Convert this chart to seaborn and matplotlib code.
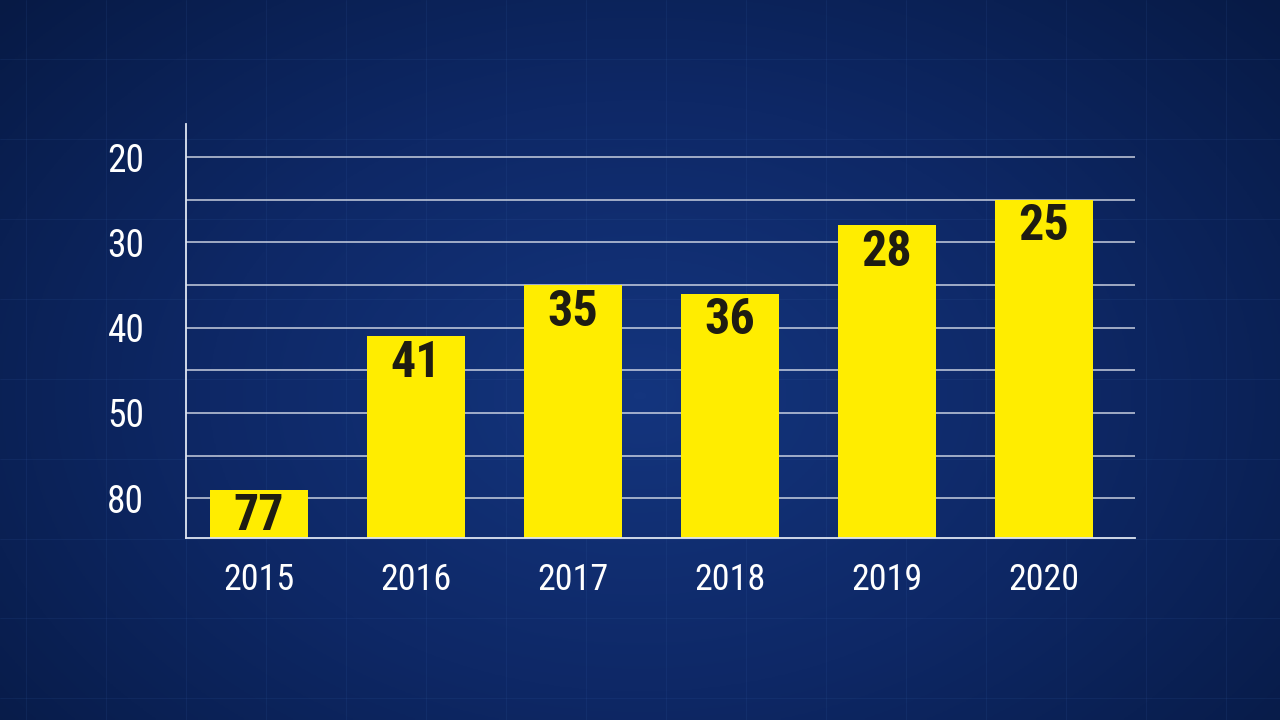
import numpy as np
import pandas as pd
import matplotlib
matplotlib.use("Agg")
import matplotlib.pyplot as plt
from matplotlib import font_manager
from matplotlib.colors import LinearSegmentedColormap
import seaborn as sns

# data
years = ["2015", "2016", "2017", "2018", "2019", "2020"]
values = [77, 41, 35, 36, 28, 25]
y_ticks = [20, 30, 40, 50, 80]
grid_extra = [25, 35, 45, 65]
base = 94  # value sitting on the baseline of the (inverted) axis

sns.set_theme(style="dark")

# pick a narrow font if one is installed
fonts = font_manager.fontManager.ttflist
names = {f.name for f in fonts}
cond, stretch = 'DejaVu Sans', 'normal'
for cand in ['Roboto Condensed', 'DejaVu Sans Condensed', 'Liberation Sans Narrow',
             'Open Sans Condensed', 'Noto Sans Condensed']:
    if cand in names:
        cond = cand
        break
else:
    narrow = [f for f in fonts if 'condensed' in str(f.stretch)]
    if narrow:
        cond, stretch = narrow[0].name, 'condensed'
plt.rcParams['font.family'] = [cond, 'DejaVu Sans']
plt.rcParams['font.stretch'] = stretch
is_narrow = cond != 'DejaVu Sans'


# axis squeezes everything above 50 to a third
def fwd(y):
    y = np.asarray(y, dtype=float)
    return np.where(y <= 50, y, 50 + (y - 50) / 3)


def inv(t):
    t = np.asarray(t, dtype=float)
    return np.where(t <= 50, t, 50 + (t - 50) * 3)


fig = plt.figure(figsize=(12.8, 7.2), dpi=100)

# dark blue background
bg = fig.add_axes([0, 0, 1, 1])
bg.axis('off')
yy, xx = np.mgrid[0:1:240j, 0:1:420j]
r = np.sqrt(((xx - 0.5) * 1.1) ** 2 + ((yy - 0.45) * 0.9) ** 2)
cmap = LinearSegmentedColormap.from_list("navy", ["#14357e", "#0e2866", "#071a45"])
bg.imshow(r, cmap=cmap, extent=(0, 1, 0, 1), aspect='auto', origin='lower')
for gx in np.arange(0.02, 1, 0.0625):
    bg.axvline(gx, color='#3a66b0', lw=0.6, alpha=0.15)
for gy in np.arange(0.03, 1, 0.111):
    bg.axhline(gy, color='#3a66b0', lw=0.6, alpha=0.15)
bg.set_xlim(0, 1)
bg.set_ylim(0, 1)

df = pd.DataFrame({'year': years, 'value': values})
df['depth'] = df['value'] - base

ax = fig.add_axes([0.1453, 0.2528, 0.7414, 0.575])
ax.set_facecolor('none')
sns.barplot(data=df, x='year', y='depth', bottom=base, color='#FFED00',
            saturation=1, width=0.62, linewidth=0, ax=ax)

ax.set_yscale('function', functions=(fwd, inv))
ax.set_ylim(base, 16.1)
ax.set_xlim(-0.465, 5.58)
ax.set_yticks(y_ticks)
ax.set_yticks(grid_extra, minor=True)
ax.yaxis.grid(True, which='both', color='#e8ecf4', lw=1.1, alpha=0.85)
ax.xaxis.grid(False)
ax.set_axisbelow(True)
ax.set_xlabel('')
ax.set_ylabel('')
tick_size = 27 if is_narrow else 21
ax.tick_params(axis='y', which='both', length=0, pad=30, labelsize=tick_size, labelcolor='white')
ax.tick_params(axis='x', length=0, pad=17, labelsize=tick_size - 1, labelcolor='white')
ax.set_yticklabels([str(t) for t in y_ticks])

for side in ['top', 'right']:
    ax.spines[side].set_visible(False)
for side in ['left', 'bottom']:
    ax.spines[side].set_visible(True)
    ax.spines[side].set_color('#dfe6f2')
    ax.spines[side].set_linewidth(1.3)

for i, v in enumerate(values):
    ax.annotate(str(v), (i, v), xytext=(0, -27), textcoords='offset pixels',
                ha='center', va='center', fontsize=36 if is_narrow else 27,
                fontweight='bold', color='#1e1c12')

fig.savefig("out.png", dpi=100)
